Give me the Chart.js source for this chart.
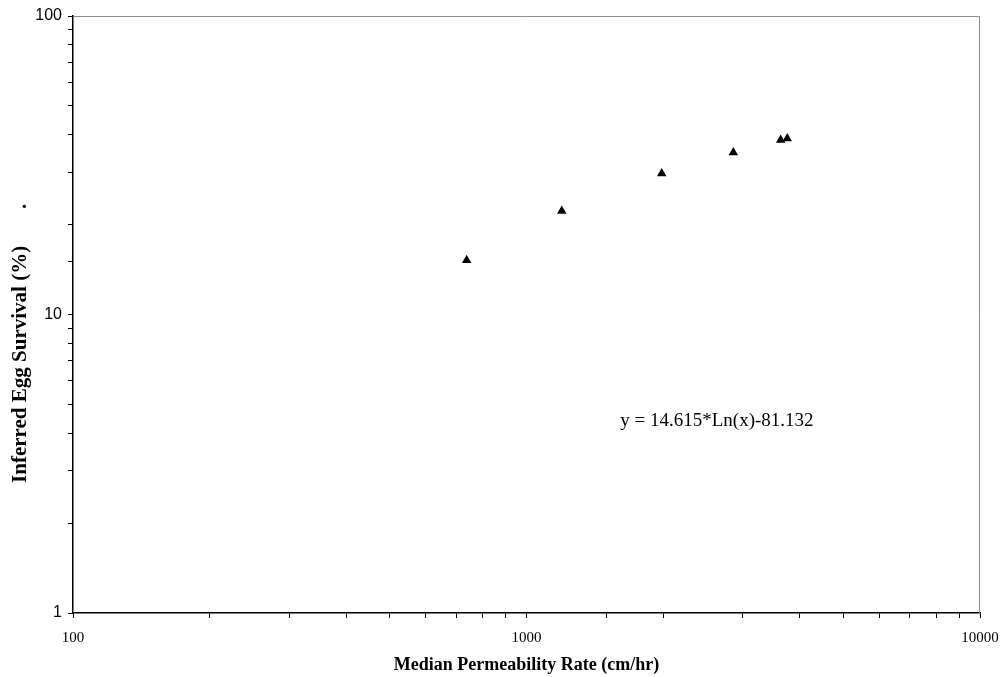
<!DOCTYPE html>
<html><head><meta charset="utf-8">
<script src="https://cdn.jsdelivr.net/npm/chart.js@4/dist/chart.umd.min.js"></script>
<style>html,body{margin:0;padding:0;background:#fff}#wrap{width:1007px;height:677px}</style>
</head><body><div id="wrap"><canvas id="c" width="1007" height="677"></canvas></div>
<script>
const permeability = [738, 1196, 1987, 2858, 3635, 3758];
const survival = [15.2, 22.2, 29.7, 34.9, 38.4, 38.9];
const xTickLabels = [100, 1000, 10000];
const yTickLabels = [1, 10, 100];
const equationText = 'y = 14.615*Ln(x)-81.132';
const equationPos = {x: 1610, y: 4.4};

const frame = {
  id: 'frame',
  afterDraw(chart) {
    const {ctx, chartArea: a} = chart;
    ctx.save();
    ctx.strokeStyle = '#8c8c8c'; ctx.lineWidth = 1;
    ctx.beginPath();
    ctx.moveTo(a.left, a.top + 0.5); ctx.lineTo(a.right - 0.5, a.top + 0.5); ctx.lineTo(a.right - 0.5, a.bottom);
    ctx.stroke();
    ctx.fillStyle = '#000';
    ctx.font = '19px "Liberation Serif", "Times New Roman", serif';
    ctx.textBaseline = 'middle'; ctx.textAlign = 'left';
    ctx.fillText(equationText, chart.scales.x.getPixelForValue(equationPos.x), chart.scales.y.getPixelForValue(equationPos.y));
    ctx.restore();
  }
};

new Chart(document.getElementById('c'), {
  type: 'scatter',
  data: { datasets: [{
    data: permeability.map((x, i) => ({x, y: survival[i]})),
    pointStyle: 'triangle', pointRadius: 5.5, pointHoverRadius: 5.5,
    backgroundColor: '#000', borderColor: '#000', borderWidth: 0
  }]},
  options: {
    responsive: false, animation: false, devicePixelRatio: 1,
    layout: { padding: { left: 0, top: 16, right: 27, bottom: 0 } },
    plugins: { legend: { display: false }, tooltip: { enabled: false } },
    scales: {
      x: {
        type: 'logarithmic', min: 100, max: 10000,
        afterFit(s) { s.height = 64; s.paddingLeft = 0; s.paddingRight = 0; },
        border: { color: '#000', width: 1.5 },
        grid: { drawOnChartArea: false, drawTicks: true, tickLength: 5, color: '#000' },
        ticks: { color: '#000', padding: 11, maxRotation: 0, autoSkip: false,
          font: { family: '"Liberation Serif", "Times New Roman", serif', size: 15 },
          callback: v => xTickLabels.includes(v) ? String(v) : '' },
        title: { display: true, text: 'Median Permeability Rate (cm/hr)', color: '#000',
          font: { family: '"Liberation Serif", "Times New Roman", serif', size: 18, weight: 'bold' }, padding: 1 }
      },
      y: {
        type: 'logarithmic', min: 1, max: 100,
        afterFit(s) { s.width = 73; s.paddingTop = 0; s.paddingBottom = 0; },
        border: { color: '#000', width: 1.5 },
        grid: { drawOnChartArea: false, drawTicks: true, tickLength: 5, color: '#000' },
        ticks: { color: '#000', padding: 6, autoSkip: false,
          font: { family: '"Liberation Sans", Arial, sans-serif', size: 16 },
          callback: v => yTickLabels.includes(v) ? String(v) : '' },
        title: { display: true, text: 'Inferred Egg Survival (%)       .           ', color: '#000',
          font: { family: '"Liberation Serif", "Times New Roman", serif', size: 21, weight: 'bold' }, padding: 8 }
      }
    }
  },
  plugins: [frame]
});
</script></body></html>
